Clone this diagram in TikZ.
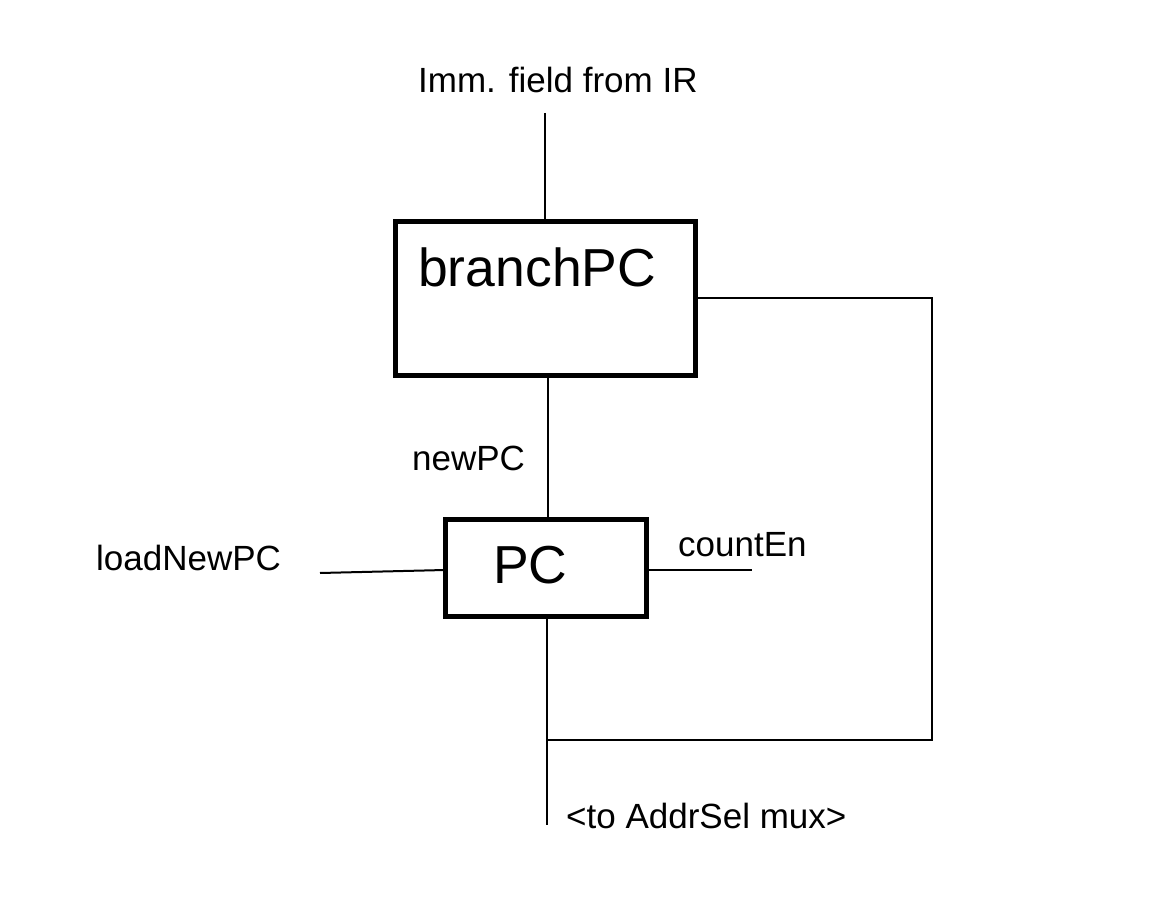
\documentclass[tikz,border=0pt]{standalone}
\usepackage{fontspec}
\setmainfont{Liberation Sans}
\begin{document}
\begin{tikzpicture}[x=1pt,y=-1pt,
  blk/.style={draw,line width=5pt,inner sep=0pt,outer sep=0pt,anchor=north west},
  wire/.style={line width=2pt},
  big/.style={inner sep=0pt,anchor=base west,font=\fontsize{53.5}{60}\selectfont},
  lbl/.style={inner sep=0pt,anchor=base west,font=\fontsize{35}{40}\selectfont}]
\useasboundingbox (0,0) rectangle (1160,920);
% boxes
\node[blk,minimum width=300pt,minimum height=154pt] (bpc) at (395.5,221.5) {};
\node[big] (bpct) at (418,287) {branchPC};
\node[blk,minimum width=201pt,minimum height=97pt] (pc) at (445,519) {};
\node[big] (pct) at (493,583) {PC};
% labels
\node[lbl] (imm) at (418,93) {Imm. field from IR};
\node[lbl] (newpc) at (412,470) {newPC};
\node[lbl] (load) at (96,570) {loadNewPC};
\node[lbl] (cnt) at (678,556) {countEn};
\node[lbl] (mux) at (566,828) {<to AddrSel mux>};
% free ends
\coordinate (immend) at (545,113);
\coordinate (loadend) at (320,573);
\coordinate (cntend) at (752,570);
\coordinate (muxend) at (547,825);
\coordinate (tap) at (547,740);
\coordinate (cr) at (932,740);
\coordinate (ctr) at (932,298);
% wires
\draw[wire] (immend) -- (immend |- bpc.north);
\draw[wire] (bpc.south) ++(2,0) coordinate (bs) (bs) -- (bs |- pc.north);
\draw[wire] (loadend) -- (pc.west |- 0,570);
\draw[wire] (pc.east |- cntend) -- (cntend);
\draw[wire] (muxend |- pc.south) -- (muxend);
\draw[wire] (tap) -- (cr) -- (ctr) -- (ctr -| bpc.east);
\end{tikzpicture}
\end{document}
